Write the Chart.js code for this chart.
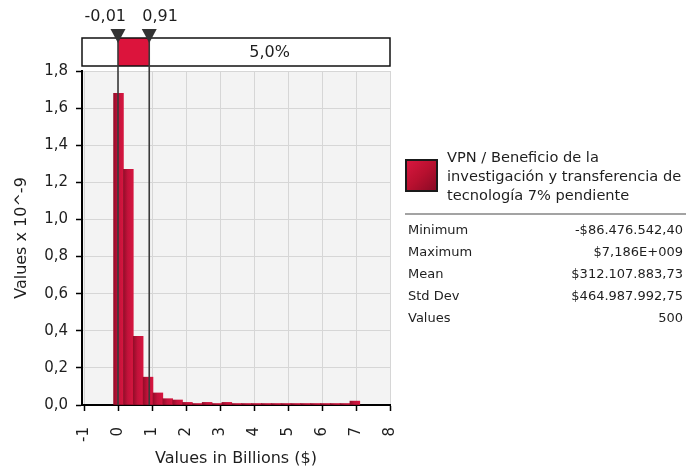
<!DOCTYPE html>
<html>
<head>
<meta charset="utf-8">
<script src="https://cdn.jsdelivr.net/npm/chart.js@4"></script>
<style>
  body { margin:0; background:#fff; }
  #wrap { position:relative; width:686px; height:472px; font-family:"DejaVu Sans", sans-serif; color:#1e1e1e; }
  #c { position:absolute; left:0; top:0; }
  .sq { position:absolute; left:405px; top:159px; width:29px; height:29px; border:2px solid #1a1a1a;
        background:linear-gradient(135deg,#d8173f 0%,#b8102f 50%,#8a0a25 100%); }
  .ltxt { position:absolute; left:447px; top:147px; width:239px; font-size:14.6px; line-height:19px; white-space:nowrap; }
  .sep { position:absolute; left:405px; top:213px; width:281px; height:2px; background:#a3a3a3; }
  .row { position:absolute; left:408px; width:275px; font-size:13px; line-height:22px; height:22px; }
  .row .v { position:absolute; right:0; top:0; }
</style>
</head>
<body>
<div id="wrap">
  <canvas id="c" width="686" height="472"></canvas>
  <div class="sq"></div>
  <div class="ltxt" id="ltxt"></div>
  <div class="sep"></div>
  <div id="stats"></div>
</div>
<script>
// ---- data ----
const binCenters = [0.005,0.295,0.585,0.875,1.165,1.455,1.745,2.035,2.325,2.615,2.905,3.195,3.485,3.775,4.065,4.355,4.645,4.935,5.225,5.515,5.805,6.095,6.385,6.675,6.965];
const density    = [1.68,1.27,0.37,0.15,0.065,0.034,0.027,0.014,0.008,0.014,0.008,0.014,0.008,0.008,0.008,0.008,0.008,0.008,0.008,0.008,0.008,0.008,0.008,0.008,0.021];
const xTicks = [-1,0,1,2,3,4,5,6,7,8];
const yTicks = [0,0.2,0.4,0.6,0.8,1.0,1.2,1.4,1.6,1.8];
const delimiters = [-0.01, 0.91];
const delimiterLabels = ['-0,01', '0,91'];
const rightTailLabel = '5,0%';
const seriesName = ['VPN / Beneficio de la', 'investigación y transferencia de', 'tecnología 7% pendiente'];
const statLabels = ['Minimum','Maximum','Mean','Std Dev','Values'];
const statValues = ['-$86.476.542,40','$7,186E+009','$312.107.883,73','$464.987.992,75','500'];

// ---- legend / stats (HTML text) ----
document.getElementById('ltxt').innerHTML = seriesName.join('<br>');
const st = document.getElementById('stats');
statLabels.forEach((l, i) => {
  const d = document.createElement('div');
  d.className = 'row';
  d.style.top = (219 + i * 22) + 'px';
  d.innerHTML = '<span>' + l + '</span><span class="v">' + statValues[i] + '</span>';
  st.appendChild(d);
});

const FONT = '"DejaVu Sans", sans-serif';
const fmt = v => (Math.round(v * 10) / 10).toFixed(1).replace('.', ',');

const bgPlugin = {
  id: 'bg',
  beforeDraw(chart) {
    const {ctx, chartArea: a} = chart;
    ctx.save();
    ctx.fillStyle = '#f3f3f3';
    ctx.fillRect(a.left, a.top, a.right - a.left, a.bottom - a.top);
    ctx.restore();
  }
};

const delimPlugin = {
  id: 'delim',
  afterDraw(chart) {
    const {ctx, chartArea: a, scales: {x}} = chart;
    const bTop = 38, bBot = 66;
    const xL = x.getPixelForValue(delimiters[0]);
    const xR = x.getPixelForValue(delimiters[1]);
    ctx.save();
    // band
    ctx.fillStyle = '#ffffff';
    ctx.fillRect(a.left, bTop, a.right - a.left, bBot - bTop);
    ctx.fillStyle = '#dc143c';
    ctx.fillRect(xL, bTop, xR - xL, bBot - bTop);
    ctx.strokeStyle = '#111';
    ctx.lineWidth = 1.5;
    ctx.strokeRect(a.left, bTop, a.right - a.left, bBot - bTop);
    // lines
    ctx.strokeStyle = '#3a3a3a';
    ctx.lineWidth = 1.6;
    [xL, xR].forEach(px => {
      ctx.beginPath();
      ctx.moveTo(px, bTop);
      ctx.lineTo(px, a.bottom);
      ctx.stroke();
    });
    // triangles
    ctx.fillStyle = '#333';
    [xL, xR].forEach(px => {
      ctx.beginPath();
      ctx.moveTo(px - 7.5, 29);
      ctx.lineTo(px + 7.5, 29);
      ctx.lineTo(px, 43);
      ctx.closePath();
      ctx.fill();
    });
    // labels
    ctx.fillStyle = '#1e1e1e';
    ctx.font = '16px ' + FONT;
    ctx.textBaseline = 'middle';
    ctx.textAlign = 'right';
    ctx.fillText(delimiterLabels[0], xL + 8, 17);
    ctx.textAlign = 'left';
    ctx.fillText(delimiterLabels[1], xR - 7, 17);
    ctx.textAlign = 'center';
    ctx.fillText(rightTailLabel, (xR + a.right) / 2, 53);
    ctx.restore();
  }
};

const halfBin = (binCenters[1] - binCenters[0]) / 2;

new Chart(document.getElementById('c'), {
  type: 'bar',
  data: {
    datasets: [{
      data: binCenters.map((c, i) => ({x: c, y: density[i]})),
      barPercentage: 1.0,
      categoryPercentage: 1.0,
      borderWidth: 0,
      backgroundColor: (ctx) => {
        const chart = ctx.chart;
        const sx = chart.scales && chart.scales.x;
        if (!chart.chartArea || !sx || ctx.type !== 'data') return '#c8143a';
        const c = binCenters[ctx.dataIndex];
        const x0 = sx.getPixelForValue(c - halfBin), x1 = sx.getPixelForValue(c + halfBin);
        const g = chart.ctx.createLinearGradient(x0, 0, x1, 0);
        g.addColorStop(0, '#950d29');
        g.addColorStop(0.45, '#c3123b');
        g.addColorStop(1, '#d5163f');
        return g;
      }
    }]
  },
  options: {
    responsive: false,
    animation: false,
    layout: { padding: { left: 0, top: 71, right: 296, bottom: 0 } },
    plugins: { legend: { display: false }, tooltip: { enabled: false } },
    scales: {
      x: {
        type: 'linear',
        offset: false,
        min: -1.07, max: 8,
        afterBuildTicks: s => { s.ticks = xTicks.map(v => ({value: v})); },
        afterFit: s => { s.height = 67; },
        grid: { offset: false, color: '#d6d6d6', lineWidth: 1, tickColor: '#000', tickLength: 6, tickWidth: 1.5 },
        border: { color: '#000', width: 2 },
        ticks: {
          minRotation: 90, maxRotation: 90, padding: 16,
          font: { family: FONT, size: 15 }, color: '#1e1e1e',
          callback: v => String(v)
        },
        title: { display: true, text: 'Values in Billions ($)', font: { family: FONT, size: 16 }, color: '#1e1e1e', padding: { top: 0, bottom: 4 } }
      },
      y: {
        min: 0, max: 1.8,
        afterBuildTicks: s => { s.ticks = yTicks.map(v => ({value: v})); },
        afterFit: s => { s.width = 82; },
        grid: { color: '#d6d6d6', lineWidth: 1, tickColor: '#000', tickLength: 6, tickWidth: 1.5 },
        border: { color: '#000', width: 2 },
        ticks: { padding: 8, font: { family: FONT, size: 15 }, color: '#1e1e1e', callback: v => fmt(v) },
        title: { display: true, text: 'Values x 10^-9', font: { family: FONT, size: 16 }, color: '#1e1e1e', padding: { top: 12, bottom: 0 } }
      }
    }
  },
  plugins: [bgPlugin, delimPlugin]
});
</script>
</body>
</html>
